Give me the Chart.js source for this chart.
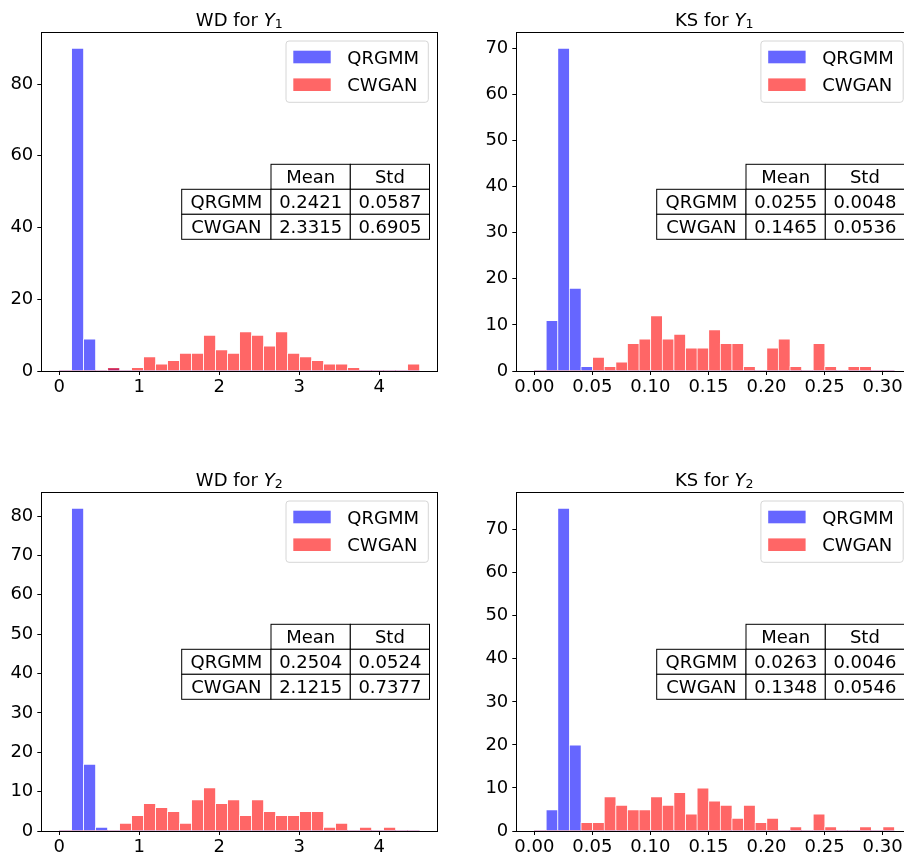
<!DOCTYPE html>
<html>
<head>
<meta charset="utf-8">
<script src="https://cdn.jsdelivr.net/npm/chart.js@4.4.0/dist/chart.umd.min.js"></script>
<style>
  html, body { margin: 0; padding: 0; background: #fff; overflow: hidden; }
  #fig { position: relative; width: 904px; height: 854px; overflow: hidden; background: #fff; }
  #fig canvas { position: absolute; }
</style>
</head>
<body>
<div id="fig">
  <canvas id="c1" width="452" height="430" style="left:0px;top:0px"></canvas>
  <canvas id="c2" width="470" height="430" style="left:452px;top:0px"></canvas>
  <canvas id="c3" width="452" height="430" style="left:0px;top:460px"></canvas>
  <canvas id="c4" width="470" height="430" style="left:452px;top:460px"></canvas>
</div>
<script>
const FONT = 'DejaVu Sans';
const BLUE = 'rgba(0,0,255,0.6)';
const RED = 'rgba(255,0,0,0.6)';

// --- series and table labels ---
const seriesNames = ['QRGMM', 'CWGAN'];
const statCols = ['Mean', 'Std'];

// --- bins (WD: 30 x 0.15 from 0, KS: 31 x 0.01 from 0) ---
const wdBinWidth = 0.15, wdBinCount = 30;
const ksBinWidth = 0.01, ksBinCount = 31;

// --- tick labels ---
const wdXTicks = [0, 1, 2, 3, 4];
const ksXTicks = [0, 0.05, 0.10, 0.15, 0.20, 0.25, 0.30];
const wdY1YTicks = [0, 20, 40, 60, 80];
const ksY1YTicks = [0, 10, 20, 30, 40, 50, 60, 70];
const wdY2YTicks = [0, 10, 20, 30, 40, 50, 60, 70, 80];
const ksY2YTicks = [0, 10, 20, 30, 40, 50, 60, 70];

// --- histogram counts per bin ---
const wdY1Qrgmm = [0,90,9,0,1,0,0,0,0,0,0,0,0,0,0,0,0,0,0,0,0,0,0,0,0,0,0,0,0,0];
const wdY1Cwgan = [0,0,0,0,1,0,1,4,2,3,5,5,10,6,5,11,10,7,11,5,4,3,2,2,1,0,0,0,0,2];

const ksY1Qrgmm = [0,11,70,18,1,0,0,0,0,0,0,0,0,0,0,0,0,0,0,0,0,0,0,0,0,0,0,0,0,0,0];
const ksY1Cwgan = [0,0,0,0,0,3,1,2,6,7,12,7,8,5,5,9,6,6,1,0,5,7,1,0,6,1,0,1,1,0,0];

const wdY2Qrgmm = [0,82,17,1,0,0,0,0,0,0,0,0,0,0,0,0,0,0,0,0,0,0,0,0,0,0,0,0,0,0];
const wdY2Cwgan = [0,0,0,0,0,2,4,7,6,5,2,8,11,7,8,4,8,5,4,4,5,5,1,2,0,1,0,1,0,0];

const ksY2Qrgmm = [0,5,75,20,0,0,0,0,0,0,0,0,0,0,0,0,0,0,0,0,0,0,0,0,0,0,0,0,0,0,0];
const ksY2Cwgan = [0,0,0,0,2,2,8,6,5,5,8,6,9,4,10,7,6,3,6,2,3,0,1,0,4,1,0,0,1,0,1];

// --- table values (rows: QRGMM, CWGAN; cols: Mean, Std) ---
const wdY1Stats = [['0.2421', '0.0587'], ['2.3315', '0.6905']];
const ksY1Stats = [['0.0255', '0.0048'], ['0.1465', '0.0536']];
const wdY2Stats = [['0.2504', '0.0524'], ['2.1215', '0.7377']];
const ksY2Stats = [['0.0263', '0.0046'], ['0.1348', '0.0546']];

// --- plugin: spines, title, legend, table ---
function decorPlugin(opt) {
  return {
    id: 'decor',
    afterDraw(chart) {
      const ctx = chart.ctx;
      const a = chart.chartArea;
      ctx.save();

      // spines
      ctx.strokeStyle = '#000';
      ctx.lineWidth = 1;
      ctx.strokeRect(Math.round(a.left) + 0.5, Math.round(a.top) + 0.5,
        Math.round(a.right) - Math.round(a.left), Math.round(a.bottom) - Math.round(a.top));

      // title: "<metric> for Y_n"
      const parts = [
        { t: opt.metric + ' for ', f: '18px "' + FONT + '"', dy: 0 },
        { t: 'Y', f: 'italic 18px "' + FONT + '"', dy: 0 },
        { t: opt.sub, f: '12.6px "' + FONT + '"', dy: 2.2 }
      ];
      let total = 0;
      parts.forEach(p => { ctx.font = p.f; p.w = ctx.measureText(p.t).width; total += p.w; });
      let tx = (a.left + a.right) / 2 - total / 2;
      const tBase = a.top - 5.8;
      ctx.fillStyle = '#000';
      ctx.textAlign = 'left';
      ctx.textBaseline = 'alphabetic';
      parts.forEach(p => { ctx.font = p.f; ctx.fillText(p.t, tx, tBase + p.dy); tx += p.w; });

      // legend
      const bx = a.right - 151.3, by = a.top + 9, bw = 142.3, bh = 61.3;
      ctx.beginPath();
      ctx.roundRect(bx, by, bw, bh, 3);
      ctx.fillStyle = 'rgba(255,255,255,0.8)';
      ctx.fill();
      ctx.strokeStyle = '#d6d6d6';
      ctx.stroke();
      [BLUE, RED].forEach((col, i) => {
        const cy = by + 16 + i * 27.7;
        ctx.fillStyle = col;
        ctx.fillRect(bx + 7.3, cy - 6.3, 37.4, 12.6);
        ctx.fillStyle = '#000';
        ctx.font = '18px "' + FONT + '"';
        ctx.fillText(seriesNames[i], bx + 61.3, cy + 6.6);
      });

      // stats table
      const x0 = a.left + 140.4, y0 = a.top + 132.3, rh = 25;
      const cw = [89.3, 79.3, 79.2];
      const cx = [x0, x0 + cw[0], x0 + cw[0] + cw[1]];
      ctx.font = '18px "' + FONT + '"';
      ctx.textAlign = 'center';
      ctx.strokeStyle = '#000';
      ctx.lineWidth = 1;
      const cell = (col, row, text) => {
        const x = cx[col], y = y0 + row * rh;
        ctx.fillStyle = '#fff';
        ctx.fillRect(x, y, cw[col], rh);
        ctx.strokeRect(x, y, cw[col], rh);
        ctx.fillStyle = '#000';
        ctx.fillText(text, x + cw[col] / 2, y + 18.4);
      };
      statCols.forEach((c, j) => cell(j + 1, 0, c));
      seriesNames.forEach((n, i) => {
        cell(0, i + 1, n);
        opt.stats[i].forEach((v, j) => cell(j + 1, i + 1, v));
      });

      ctx.restore();
    }
  };
}

function makePanel(id, opt) {
  const ctx = document.getElementById(id).getContext('2d');
  const range = opt.binWidth * opt.binCount;
  const toPts = counts => counts.map((c, i) => ({ x: (i + 0.5) * opt.binWidth, y: c }));
  const maxCount = Math.max(...opt.qrgmm, ...opt.cwgan);
  const tickFont = { family: FONT, size: 18 };

  return new Chart(ctx, {
    type: 'bar',
    data: {
      datasets: [
        { label: seriesNames[0], data: toPts(opt.qrgmm), backgroundColor: BLUE, order: 1 },
        { label: seriesNames[1], data: toPts(opt.cwgan), backgroundColor: RED, order: 0 }
      ]
    },
    options: {
      responsive: false,
      animation: false,
      events: [],
      layout: { padding: { left: 0, top: 32, right: opt.padRight, bottom: 0 } },
      datasets: {
        bar: {
          grouped: false,
          barPercentage: 1,
          categoryPercentage: 1,
          borderColor: 'rgba(255,255,255,0.6)',
          borderSkipped: false,
          borderWidth: c => (c.raw && c.raw.y > 0) ? { left: 1, top: 1, right: 0, bottom: 0 } : 0
        }
      },
      plugins: { legend: { display: false }, tooltip: { enabled: false }, title: { display: false } },
      scales: {
        x: {
          type: 'linear',
          offset: false,
          min: -0.05 * range,
          max: 1.05 * range,
          border: { display: false },
          grid: { offset: false, drawOnChartArea: false, drawTicks: true, tickLength: 4, color: '#000', lineWidth: 1 },
          ticks: {
            font: tickFont, color: '#000', padding: 2, autoSkip: false, maxRotation: 0,
            callback: v => opt.xFmt(v)
          },
          afterBuildTicks: s => { s.ticks = opt.xTicks.map(v => ({ value: v })); },
          afterFit: s => { s.height = 59; }
        },
        y: {
          min: 0,
          max: 1.05 * maxCount,
          border: { display: false },
          grid: { drawOnChartArea: false, drawTicks: true, tickLength: 4, color: '#000', lineWidth: 1 },
          ticks: { font: tickFont, color: '#000', padding: 4, autoSkip: false },
          afterBuildTicks: s => { s.ticks = opt.yTicks.map(v => ({ value: v })); },
          afterFit: s => { s.width = opt.axisLeft; }
        }
      }
    },
    plugins: [decorPlugin(opt)]
  });
}

const wdFmt = v => String(v);
const ksFmt = v => Number(v).toFixed(2);

makePanel('c1', { metric: 'WD', sub: '1', binWidth: wdBinWidth, binCount: wdBinCount,
  qrgmm: wdY1Qrgmm, cwgan: wdY1Cwgan, stats: wdY1Stats, xTicks: wdXTicks, yTicks: wdY1YTicks,
  xFmt: wdFmt, axisLeft: 41.3, padRight: 14.7 });
makePanel('c2', { metric: 'KS', sub: '1', binWidth: ksBinWidth, binCount: ksBinCount,
  qrgmm: ksY1Qrgmm, cwgan: ksY1Cwgan, stats: ksY1Stats, xTicks: ksXTicks, yTicks: ksY1YTicks,
  xFmt: ksFmt, axisLeft: 64.3, padRight: 9.8 });
makePanel('c3', { metric: 'WD', sub: '2', binWidth: wdBinWidth, binCount: wdBinCount,
  qrgmm: wdY2Qrgmm, cwgan: wdY2Cwgan, stats: wdY2Stats, xTicks: wdXTicks, yTicks: wdY2YTicks,
  xFmt: wdFmt, axisLeft: 41.3, padRight: 14.7 });
makePanel('c4', { metric: 'KS', sub: '2', binWidth: ksBinWidth, binCount: ksBinCount,
  qrgmm: ksY2Qrgmm, cwgan: ksY2Cwgan, stats: ksY2Stats, xTicks: ksXTicks, yTicks: ksY2YTicks,
  xFmt: ksFmt, axisLeft: 64.3, padRight: 9.8 });
</script>
</body>
</html>
